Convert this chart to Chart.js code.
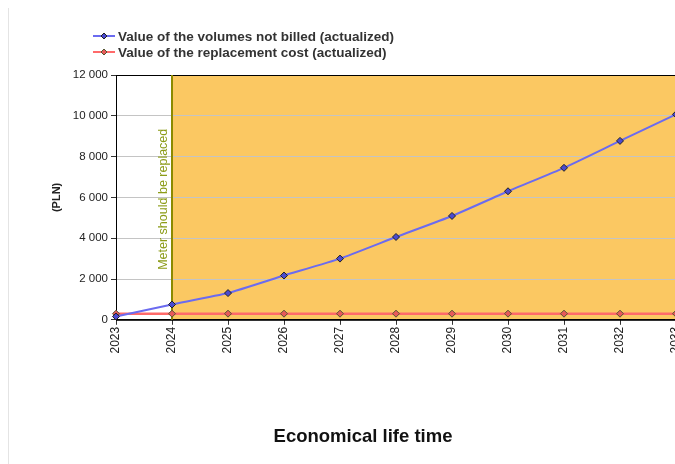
<!DOCTYPE html>
<html>
<head>
<meta charset="utf-8">
<style>
  html, body { margin: 0; padding: 0; background: #fff; overflow: hidden; }
  #wrap { position: relative; width: 675px; height: 464px; overflow: hidden; }
  #edge { position: absolute; left: 8px; top: 8px; bottom: 0; width: 1px; background: #e4e4e4; }
  canvas { position: absolute; left: 0; top: 0; }
</style>
</head>
<body>
<div id="wrap">
  <div id="edge"></div>
  <canvas id="chart" width="700" height="464"></canvas>
</div>

<script src="https://cdn.jsdelivr.net/npm/chart.js"></script>
<script>
  const years = ['2023', '2024', '2025', '2026', '2027', '2028', '2029', '2030', '2031', '2032', '2033'];
  const notBilled = [160, 750, 1310, 2170, 3000, 4060, 5090, 6300, 7450, 8770, 10070];
  const replacement = [300, 300, 300, 300, 300, 300, 300, 300, 300, 300, 300];
  const replaceYear = '2024';
  const yTicks = [0, 2000, 4000, 6000, 8000, 10000, 12000];

  const font = 'Liberation Sans, Arial, sans-serif';

  const fmt = v => String(v).replace(/\B(?=(\d{3})+(?!\d))/g, ' ');

  // orange area after replacement year, drawn under the grid
  const zonePlugin = {
    id: 'zone',
    beforeDraw(chart) {
      const { ctx, chartArea: a, scales: { x } } = chart;
      const x0 = x.getPixelForValue(years.indexOf(replaceYear));
      ctx.save();
      ctx.fillStyle = '#fbc862';
      ctx.fillRect(x0, a.top, a.right - x0, a.bottom - a.top);
      ctx.restore();
    },
    beforeDatasetsDraw(chart) {
      const { ctx, chartArea: a, scales: { x } } = chart;
      const x0 = x.getPixelForValue(years.indexOf(replaceYear));
      ctx.save();
      ctx.strokeStyle = '#000';
      ctx.lineWidth = 1;
      ctx.strokeRect(a.left + 0.5, a.top + 0.5, a.right - a.left, a.bottom - a.top);
      ctx.strokeStyle = '#8c8a00';
      ctx.lineWidth = 2;
      ctx.beginPath();
      ctx.moveTo(x0, a.top);
      ctx.lineTo(x0, a.bottom);
      ctx.stroke();
      ctx.translate(x0 - 2, a.bottom - 50);
      ctx.rotate(-Math.PI / 2);
      ctx.fillStyle = '#8c9c18';
      ctx.font = '12.5px ' + font;
      ctx.textAlign = 'left';
      ctx.textBaseline = 'bottom';
      ctx.fillText('Meter should be replaced', 0, 0);
      ctx.restore();
    }
  };

  // legend in two rows at the top left
  const legendPlugin = {
    id: 'rowsLegend',
    afterDraw(chart) {
      const { ctx } = chart;
      ctx.save();
      chart.data.datasets.forEach((ds, i) => {
        const y = 36 + i * 16;
        ctx.strokeStyle = ds.borderColor;
        ctx.lineWidth = 2;
        ctx.beginPath();
        ctx.moveTo(93, y);
        ctx.lineTo(115, y);
        ctx.stroke();
        ctx.beginPath();
        ctx.moveTo(104, y - 3);
        ctx.lineTo(107, y);
        ctx.lineTo(104, y + 3);
        ctx.lineTo(101, y);
        ctx.closePath();
        ctx.fillStyle = ds.pointBackgroundColor;
        ctx.fill();
        ctx.strokeStyle = ds.pointBorderColor;
        ctx.lineWidth = 1;
        ctx.stroke();
        ctx.fillStyle = '#333';
        ctx.font = 'bold 13.5px ' + font;
        ctx.textBaseline = 'middle';
        ctx.fillText(ds.label, 118, y + 1);
      });
      ctx.restore();
    }
  };

  new Chart(document.getElementById('chart'), {
    type: 'line',
    data: {
      labels: years,
      datasets: [{
        label: 'Value of the volumes not billed (actualized)',
        data: notBilled,
        borderColor: '#6b6bf0',
        borderWidth: 2,
        pointStyle: 'rectRot',
        pointRadius: 3.5,
        pointBackgroundColor: '#4a4ad0',
        pointBorderColor: '#222',
        pointBorderWidth: 1,
        tension: 0.15
      }, {
        label: 'Value of the replacement cost (actualized)',
        data: replacement,
        borderColor: '#ff6a6a',
        borderWidth: 2.5,
        pointStyle: 'rectRot',
        pointRadius: 3.5,
        pointBackgroundColor: '#e85a5a',
        pointBorderColor: '#553',
        pointBorderWidth: 1
      }]
    },
    options: {
      responsive: false,
      animation: false,
      devicePixelRatio: 1,
      layout: { padding: { top: 75, left: 50, right: 24, bottom: 16 } },
      plugins: {
        legend: { display: false },
        tooltip: { enabled: false },
        title: {
          display: true,
          position: 'bottom',
          text: 'Economical life time',
          color: '#111',
          font: { family: font, size: 18.5, weight: 'bold' },
          padding: { top: 0, bottom: 0 }
        }
      },
      scales: {
        x: {
          offset: false,
          grid: { drawOnChartArea: false, drawTicks: true, tickLength: 5, tickColor: '#333' },
          border: { color: '#000' },
          ticks: {
            minRotation: 90, maxRotation: 90, autoSkip: false,
            color: '#222', padding: 2,
            font: { family: font, size: 12 }
          },
          afterFit(scale) { scale.height = 106; }
        },
        y: {
          min: 0, max: 12000,
          afterBuildTicks(scale) { scale.ticks = yTicks.map(v => ({ value: v })); },
          grid: { color: '#c4c4c4', tickLength: 5, tickColor: '#333' },
          border: { color: '#000' },
          ticks: {
            color: '#222', padding: 3,
            font: { family: font, size: 11.5 },
            callback: v => fmt(v)
          },
          title: {
            display: true, text: '(PLN)', color: '#222',
            font: { family: font, size: 11, weight: 'bold' },
            padding: { top: 0, bottom: 0 }
          },
          afterFit(scale) { scale.width = 66; }
        }
      }
    },
    plugins: [zonePlugin, legendPlugin]
  });
</script>
</body>
</html>
